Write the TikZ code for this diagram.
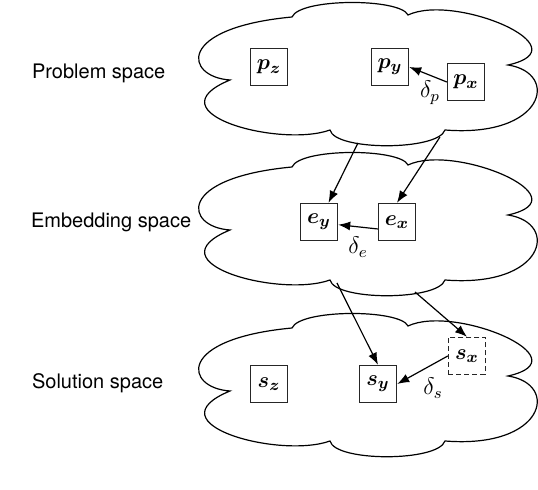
\documentclass[tikz,border=0pt]{standalone}
\usepackage{fontspec}
\newfontfamily\spacefont{TeX Gyre Heros}
\usetikzlibrary{arrows.meta}
\tikzset{
    cloud line/.style={draw=black, fill=white, line width=0.6pt},
    space cloud/.pic={
        \draw[cloud line]
            (30,-77) .. controls (-15,-74) and (-25,-25) .. (92,-14)
            .. controls (100,5) and (200,5) .. (208,-12)
            .. controls (255,10) and (385,-45) .. (308,-62)
            .. controls (360,-70) and (345,-135) .. (245,-127)
            .. controls (238,-148) and (135,-148) .. (130,-127)
            .. controls (80,-145) and (-50,-110) .. (30,-77)
            -- cycle;
    },
    elem box/.style={draw=black!85, line width=0.7pt, minimum size=18.5pt,
        inner sep=0pt, font=\fontsize{11}{13}\selectfont\boldmath},
    guess box/.style={elem box, dash pattern=on 2.5pt off 1.5pt},
    space label/.style={anchor=west, font=\spacefont},
    dist label/.style={font=\large},
    map arrow/.style={-{Latex[length=6pt,width=4.5pt]}, line width=0.6pt}
}

\begin{document}
\begin{tikzpicture}[x=0.5pt, y=0.5pt]
\useasboundingbox (0,0) rectangle (538,-490);

% Nubes de los tres espacios
\pic at (200,-3) {space cloud};
\pic at (200,-153) {space cloud};
\pic at (200,-314) {space cloud};

% Nombres de los espacios
\node[space label] (problem) at (25,-73) {Problem space};
\node[space label] (embedding) at (24,-222) {Embedding space};
\node[space label] (solution) at (25,-383) {Solution space};

% Elementos de cada espacio
\node[elem box] (pz) at (269,-67) {$p_z$};
\node[elem box] (py) at (390,-67) {$p_y$};
\node[elem box] (px) at (466,-82) {$p_x$};
\node[elem box] (ey) at (319,-222) {$e_y$};
\node[elem box] (ex) at (397,-222) {$e_x$};
\node[elem box] (sz) at (269,-384) {$s_z$};
\node[elem box] (sy) at (378,-384) {$s_y$};
\node[guess box] (sx) at (467,-356) {$s_x$};

% Salidas de las flechas en el borde de las nubes
\coordinate (pout-y) at (358,-143);
\coordinate (pout-x) at (440,-137);
\coordinate (eout-y) at (337,-283);
\coordinate (eout-x) at (415,-292);

% Flechas entre espacios
\draw[map arrow] (pout-y) -- (ey);
\draw[map arrow] (pout-x) -- (ex.north);
\draw[map arrow] (eout-y) -- (sy.north);
\draw[map arrow] (eout-x) -- (sx.north);

% Distancias dentro de cada espacio
\draw[map arrow] (px.west) -- (py.east);
\draw[map arrow] (ex.200) -- (ey.-8);
\draw[map arrow] (sx.west) -- (sy.east);
\node[dist label] (dp) at (430,-93) {$\delta_p$};
\node[dist label] (de) at (358,-247) {$\delta_e$};
\node[dist label] (ds) at (433,-388) {$\delta_s$};

\end{tikzpicture}
\end{document}
